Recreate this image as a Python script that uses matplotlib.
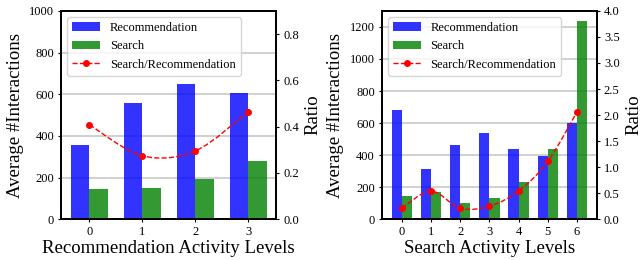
import numpy as np
import matplotlib
matplotlib.use("Agg")
import matplotlib.pyplot as plt
from matplotlib.path import Path
from matplotlib.patches import PathPatch

plt.rcParams["font.family"] = ["Liberation Serif", "DejaVu Serif"]

# left panel: recommendation activity levels
rec_levels = [0, 1, 2, 3]
rec_rec = [357, 560, 650, 606]
rec_search = [146, 150, 194, 280]
rec_ratio = [0.408, 0.274, 0.295, 0.464]

# right panel: search activity levels
src_levels = [0, 1, 2, 3, 4, 5, 6]
src_rec = [679, 314, 460, 540, 441, 397, 600]
src_search = [146, 171, 102, 134, 234, 441, 1238]
src_ratio = [0.21, 0.54, 0.21, 0.25, 0.54, 1.11, 2.06]


def smooth_path(x, y):
    """Catmull-Rom curve through the points, as cubic Bezier segments."""
    pts = np.column_stack([np.asarray(x, float), np.asarray(y, float)])
    verts = [pts[0]]
    codes = [Path.MOVETO]
    n = len(pts)
    for i in range(n - 1):
        p0 = pts[i - 1] if i > 0 else pts[i]
        p1 = pts[i]
        p2 = pts[i + 1]
        p3 = pts[i + 2] if i + 2 < n else pts[i + 1]
        verts += [p1 + (p2 - p0) / 6.0, p2 - (p3 - p1) / 6.0, p2]
        codes += [Path.CURVE4] * 3
    return Path(verts, codes)


def draw_panel(ax, levels, rec, search, ratio, xlabel, ylim, yticks, rlim, rticks):
    x = np.arange(len(levels))
    w = 0.35
    b1 = ax.bar(x - w / 2, rec, w, color="blue", alpha=0.8)
    b2 = ax.bar(x + w / 2, search, w, color="green", alpha=0.8)
    ax.set_ylim(*ylim)
    ax.set_yticks(yticks)
    ax.set_xticks(x)
    ax.set_xticklabels(levels)
    ax.yaxis.grid(True, color="#c8c8c8", linewidth=1.2)
    ax.set_axisbelow(True)
    ax.set_xlabel(xlabel, fontsize=13.5, labelpad=1)
    ax.set_ylabel("Average #Interactions", fontsize=13.5, labelpad=4)
    ax.tick_params(labelsize=9, length=2.5, pad=2.5)

    ax2 = ax.twinx()
    ax2.add_patch(PathPatch(smooth_path(x, ratio), fill=False, edgecolor="red",
                            linestyle="--", linewidth=1))
    ax2.plot(x, ratio, "ro", markersize=4)
    ax2.set_ylim(*rlim)
    ax2.set_yticks(rticks)
    ax2.set_ylabel("Ratio", fontsize=13.5, labelpad=4)
    ax2.tick_params(labelsize=9, length=2.5, pad=2.5)

    proxy = plt.Line2D([], [], color="red", linestyle="--", marker="o",
                       markersize=4, linewidth=1)
    ax.legend([b1, b2, proxy], ["Recommendation", "Search", "Search/Recommendation"],
              loc="upper left", fontsize=9, handlelength=2.2, borderaxespad=0.5)
    for a in (ax, ax2):
        for s in a.spines.values():
            s.set_linewidth(1.3)


fig, (ax_l, ax_r) = plt.subplots(1, 2, figsize=(6.44, 2.6), dpi=100)
fig.subplots_adjust(left=0.095, right=0.927, top=0.958, bottom=0.157, wspace=0.49)

draw_panel(ax_l, rec_levels, rec_rec, rec_search, rec_ratio,
           "Recommendation Activity Levels", (0, 1000), np.arange(0, 1001, 200),
           (0, 0.9), [0.0, 0.2, 0.4, 0.6, 0.8])
draw_panel(ax_r, src_levels, src_rec, src_search, src_ratio,
           "Search Activity Levels", (0, 1300), np.arange(0, 1201, 200),
           (0, 4.0), np.arange(0, 4.01, 0.5))

fig.savefig("out.png", dpi=100)
